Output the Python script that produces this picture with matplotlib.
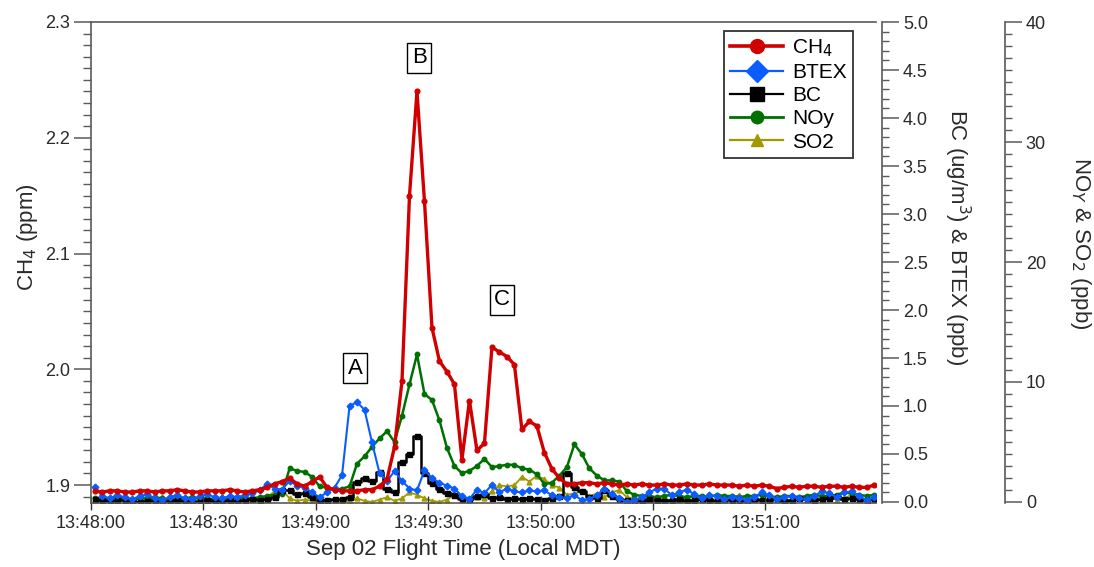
import matplotlib
matplotlib.use('Agg')
import matplotlib.pyplot as plt
from matplotlib.lines import Line2D
from matplotlib.ticker import MultipleLocator, FixedLocator

plt.rcParams['font.family'] = ['Liberation Sans', 'DejaVu Sans']

# sample clock: seconds after 13:48:00 (2-s sampling)
seconds = list(range(1, 210, 2))

ch4 = [1.895, 1.894, 1.895, 1.895, 1.894, 1.894, 1.895, 1.895, 1.894, 1.895, 1.895,
       1.896, 1.895, 1.894, 1.894, 1.895, 1.895, 1.895, 1.896, 1.895, 1.894, 1.895,
       1.896, 1.898, 1.901, 1.903, 1.906, 1.901, 1.899, 1.903, 1.907, 1.898, 1.896,
       1.895, 1.895, 1.895, 1.896, 1.896, 1.899, 1.905,
       1.933, 1.990, 2.150, 2.240, 2.145, 2.036, 2.007, 1.998, 1.987, 1.922, 1.973,
       1.930, 1.936, 2.019, 2.015, 2.011, 2.004, 1.948, 1.955, 1.951, 1.928, 1.914,
       1.906, 1.901,
       1.901, 1.902, 1.902, 1.901, 1.902, 1.901, 1.900, 1.901,
       1.900, 1.901, 1.900, 1.900, 1.901, 1.900, 1.900, 1.901, 1.900, 1.900, 1.901,
       1.900, 1.900, 1.900, 1.899, 1.900, 1.899, 1.900, 1.899, 1.897, 1.898, 1.899,
       1.898, 1.899, 1.899, 1.898, 1.899, 1.899, 1.898, 1.899, 1.898, 1.898, 1.900]

btex = [0.16, 0.06, 0.04, 0.07, 0.05, 0.03, 0.06, 0.08, 0.04, 0.02, 0.05,
        0.07, 0.04, 0.03, 0.06, 0.08, 0.05, 0.04, 0.06, 0.05, 0.07, 0.09,
        0.12, 0.19, 0.14, 0.13, 0.22, 0.17, 0.15, 0.10, 0.05, 0.10, 0.15,
        0.28, 1.00, 1.04, 0.96, 0.62, 0.30, 0.22,
        0.32, 0.22, 0.14, 0.12, 0.33, 0.25, 0.20, 0.17, 0.14, 0.06, 0.03,
        0.13, 0.09, 0.18, 0.10, 0.14, 0.11, 0.10, 0.12, 0.11, 0.12, 0.07,
        0.05, 0.04,
        0.07, 0.02, 0.03, 0.07, 0.14, 0.08, 0.04, 0.00,
        0.02, 0.05, 0.10, 0.14, 0.14, 0.07, 0.10, 0.13, 0.08, 0.04, 0.07,
        0.06, 0.03, 0.05, 0.04, 0.02, 0.05, 0.10, 0.07, 0.03, 0.05, 0.06,
        0.04, 0.03, 0.06, 0.11, 0.09, 0.05, 0.10, 0.11, 0.06, 0.02, 0.05]

bc = [0.03, 0.02, 0.01, 0.02, 0.02, 0.01, 0.00, 0.01, 0.02, 0.01, 0.01,
      0.02, 0.01, 0.00, 0.01, 0.02, 0.01, 0.01, 0.02, 0.01, 0.02, 0.03,
      0.02, 0.03, 0.05, 0.12, 0.12, 0.08, 0.09, 0.05, 0.02, 0.02, 0.03,
      0.03, 0.05, 0.21, 0.25, 0.22, 0.31, 0.14,
      0.10, 0.42, 0.50, 0.69, 0.30, 0.20, 0.14, 0.09, 0.07, 0.03, 0.03,
      0.06, 0.08, 0.04, 0.05, 0.03, 0.04, 0.03, 0.04, 0.03, 0.02, 0.04,
      0.06, 0.30,
      0.16, 0.11, 0.05, 0.04, 0.12, 0.06, 0.03, 0.02,
      0.02, 0.01, 0.03, 0.02, 0.01, 0.02, 0.03, 0.01, 0.02, 0.03, 0.02,
      0.01, 0.03, 0.02, 0.02, 0.01, 0.03, 0.02, 0.02, 0.03, 0.01, 0.02,
      0.04, 0.03, 0.02, 0.03, 0.04, 0.06, 0.03, 0.04, 0.03, 0.02, 0.03]

noy = [0.3, 0.2, 0.3, 0.4, 0.3, 0.2, 0.3, 0.3, 0.4, 0.3, 0.2,
       0.3, 0.3, 0.4, 0.3, 0.3, 0.2, 0.3, 0.3, 0.4, 0.3, 0.3,
       0.4, 0.5, 0.6, 0.7, 2.8, 2.6, 2.5, 2.1, 1.3, 1.2, 1.0,
       1.1, 1.3, 3.2, 3.8, 4.6, 5.3, 5.9,
       5.0, 7.2, 9.8, 12.3, 9.0, 8.5, 6.8, 4.5, 3.0, 2.4, 2.6,
       3.0, 3.6, 2.9, 3.0, 3.1, 3.1, 2.8, 2.7, 2.3, 1.5, 1.6,
       2.2, 2.9,
       4.8, 4.0, 2.8, 2.2, 1.8, 1.8, 1.7, 0.9,
       0.6, 0.5, 0.5, 0.4, 0.5, 0.6, 0.5, 0.4, 0.5, 0.5, 0.4,
       0.6, 0.5, 0.5, 0.4, 0.5, 0.5, 0.6, 0.5, 0.4, 0.5, 0.5,
       0.4, 0.5, 0.6, 0.5, 0.5, 0.6, 0.8, 0.7, 0.6, 0.5, 0.6]

so2 = [0.1, 0.2, 0.0, 0.1, 0.3, 0.1, 0.0, 0.2, 0.1, 0.4, 0.1,
       0.0, 0.1, 0.2, 0.3, 0.1, 0.0, 0.5, 0.1, 0.2, 0.1, 0.3,
       0.2, 0.4, 0.9, 1.0, 0.3, 0.1, 0.2, 0.1, 0.0, 0.2, 0.1,
       0.0, 0.1, 0.3, 0.1, 0.0, 0.2, 0.4,
       0.1, 0.3, 0.8, 0.6, 0.3, 0.1, 0.0, 0.2, 0.6, 0.3, 0.2,
       0.4, 0.3, 0.9, 1.4, 1.3, 1.4, 2.1, 1.7, 2.2, 1.9, 1.4,
       1.2, 0.6,
       0.7, 0.9, 0.5, 0.7, 0.4, 0.8, 1.0, 0.4,
       0.3, 0.2, 0.4, 0.2, 0.3, 0.1, 0.2, 0.3, 0.5, 0.2, 0.3,
       0.2, 0.1, 0.3, 0.6, 0.2, 0.3, 0.2, 0.3, 0.4, 0.2, 0.1,
       0.3, 0.4, 0.2, 0.5, 0.3, 0.2, 0.3, 0.6, 0.3, 0.2, 0.4]

tick_seconds = [0, 30, 60, 90, 120, 150, 180]
tick_labels = ['13:48:00', '13:48:30', '13:49:00', '13:49:30',
               '13:50:00', '13:50:30', '13:51:00']

labels = ['A', 'B', 'C']
label_pos = [(70.5, 2.001), (87.6, 2.269), (109.7, 2.060)]

C_CH4 = '#d00000'
C_BTEX = '#0a5cff'
C_BC = '#000000'
C_NOY = '#007000'
C_SO2 = '#a09a00'
SPINE = '#5a5a5a'
TXT = '#2a2a2a'

fig = plt.figure(figsize=(10.94, 5.67), dpi=100)
ax = fig.add_axes([91 / 1094, 1 - 503 / 567, 785 / 1094, 481 / 567])
ax2 = ax.twinx()
ax3 = ax.twinx()
ax.set_zorder(3)
ax.patch.set_visible(False)
ax3.set_zorder(1)
ax2.set_zorder(2)

# NOy & SO2
ax3.plot(seconds, so2, color=C_SO2, lw=1.3, marker='^', ms=3.5, mec=C_SO2, zorder=2)
ax3.plot(seconds, noy, color=C_NOY, lw=1.8, marker='o', ms=3.2, zorder=3)
# BC & BTEX
ax2.plot(seconds, bc, color=C_BC, lw=1.8, marker='s', ms=3.6, drawstyle='steps-mid', zorder=2)
ax2.plot(seconds, btex, color=C_BTEX, lw=1.5, marker='D', ms=3.4, zorder=3)
# CH4
ax.plot(seconds, ch4, color=C_CH4, lw=2.4, marker='o', ms=3.4, zorder=4)

ax.set_xlim(0, 209.5)
ax.set_ylim(1.8845, 2.3)
ax2.set_ylim(-5 / 480, 5.0)
ax3.set_ylim(-40 / 480, 40)

# spines
ax.spines['right'].set_visible(False)
for s in ['left', 'top', 'bottom']:
    ax.spines[s].set_color(SPINE)
    ax.spines[s].set_linewidth(1.2)
for a in (ax2, ax3):
    for s in ['left', 'top', 'bottom']:
        a.spines[s].set_visible(False)
    a.spines['right'].set_color(SPINE)
    a.spines['right'].set_linewidth(1.2)
ax2.spines['right'].set_position(('axes', (882 - 91) / 785))
ax3.spines['right'].set_position(('axes', (1005 - 91) / 785))

# ticks
ax.xaxis.set_major_locator(FixedLocator(tick_seconds))
ax.set_xticklabels(tick_labels)
ax.tick_params(axis='x', direction='inout', length=10, width=1, color='#333333',
               labelsize=13, labelcolor=TXT, pad=4, top=False)
ax.yaxis.set_major_locator(MultipleLocator(0.1))
ax.yaxis.set_minor_locator(MultipleLocator(0.01))
ax.tick_params(axis='y', which='major', direction='out', length=12, width=1.1,
               color=SPINE, labelsize=13, labelcolor=TXT, pad=3)
ax.tick_params(axis='y', which='minor', direction='out', length=6, width=1.0, color=SPINE)

ax2.yaxis.set_major_locator(MultipleLocator(0.5))
ax2.yaxis.set_minor_locator(MultipleLocator(0.1))
ax2.yaxis.set_major_formatter(matplotlib.ticker.FormatStrFormatter('%.1f'))
ax3.yaxis.set_major_locator(MultipleLocator(10))
ax3.yaxis.set_minor_locator(MultipleLocator(1))
for a in (ax2, ax3):
    a.tick_params(axis='y', which='major', direction='out', length=12, width=1.1,
                  color=SPINE, labelsize=13, labelcolor=TXT, pad=3)
    a.tick_params(axis='y', which='minor', direction='out', length=5, width=1.0, color=SPINE)
    a.tick_params(axis='x', bottom=False, labelbottom=False)

# axis titles
fig.text(27 / 1094, 1 - 237 / 567, 'CH$_4$ (ppm)', rotation=90, ha='center', va='center',
         fontsize=16, color=TXT)
fig.text(957 / 1094, 1 - 237 / 567, 'BC (ug/m$^3$) & BTEX (ppb)', rotation=-90,
         ha='center', va='center', fontsize=16, color=TXT)
fig.text(1081 / 1094, 1 - 243 / 567, 'NO$_Y$ & SO$_2$ (ppb)', rotation=-90,
         ha='center', va='center', fontsize=16, color=TXT)
fig.text(463 / 1094, 1 - 550 / 567, 'Sep 02 Flight Time (Local MDT)', ha='center',
         va='center', fontsize=16, color=TXT)

# peak labels
for lab, (tx, ty) in zip(labels, label_pos):
    ax.text(tx, ty, lab, ha='center', va='center', fontsize=16, color='black', zorder=6,
            bbox=dict(boxstyle='square,pad=0.2', fc='white', ec='black', lw=1.0))

# legend
handles = [
    Line2D([], [], color=C_CH4, lw=2.6, marker='o', ms=10),
    Line2D([], [], color=C_BTEX, lw=1.6, marker='D', ms=11),
    Line2D([], [], color=C_BC, lw=1.6, marker='s', ms=10),
    Line2D([], [], color=C_NOY, lw=2.0, marker='o', ms=9),
    Line2D([], [], color=C_SO2, lw=1.6, marker='^', ms=8),
]
names = ['CH$_4$', 'BTEX', 'BC', 'NOy', 'SO2']
leg = ax.legend(handles, names, loc='upper left', bbox_to_anchor=(0.806, 0.981),
                fontsize=15, frameon=True, fancybox=False, shadow=False,
                handlelength=2.55, handletextpad=0.45, labelspacing=0.2,
                borderpad=0.3, borderaxespad=0.0)
leg.get_frame().set_edgecolor('black')
leg.get_frame().set_linewidth(1.3)
leg.set_zorder(10)

fig.savefig('out.png', dpi=100)
